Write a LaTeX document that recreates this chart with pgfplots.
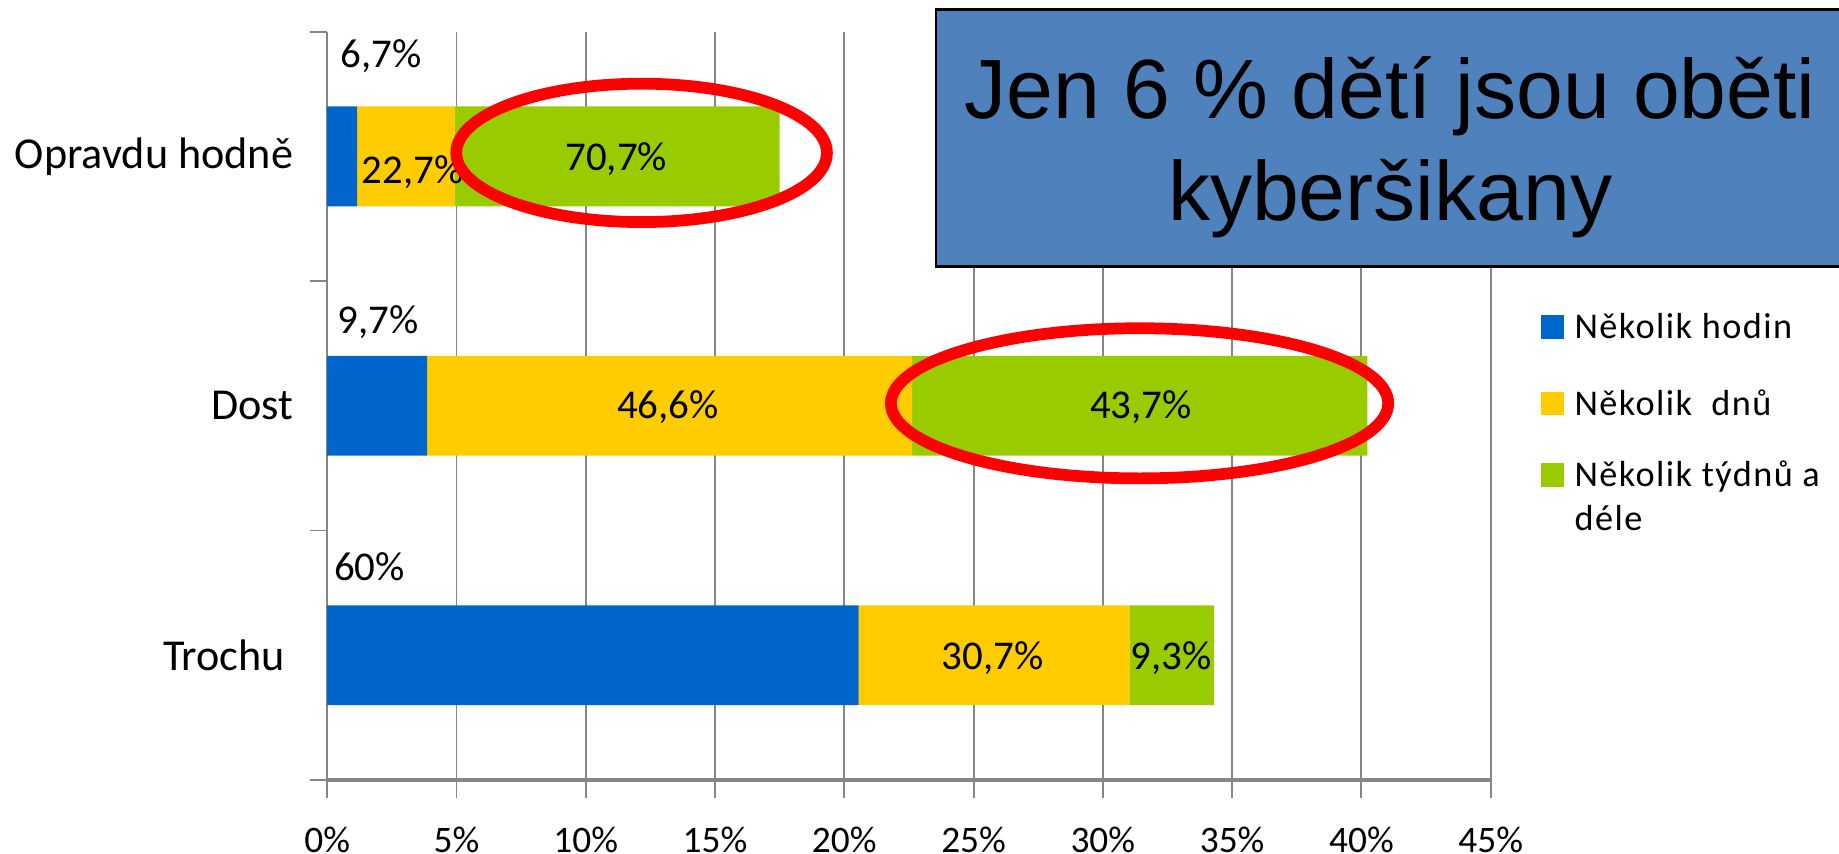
\documentclass[border=0pt]{standalone}
\usepackage{fontspec}
\setmainfont{Carlito}
\newfontfamily\arialfont{Liberation Sans}
\newfontfamily\legfont[LetterSpace=4]{Carlito}
\usepackage{pgfplots}
\pgfplotsset{compat=1.18}
\definecolor{cblue}{HTML}{0066CC}
\definecolor{cyellow}{HTML}{FFCC00}
\definecolor{cgreen}{HTML}{99CC00}
\definecolor{cgrid}{HTML}{868686}
\definecolor{boxblue}{HTML}{4F81BD}
\tikzset{
  vlab/.style={anchor=base, inner sep=0pt, font=\fontsize{17.5}{20}\selectfont},
  leglab/.style={anchor=base west, inner sep=0pt, font=\legfont\fontsize{15.5}{18.5}\selectfont},
  boxlab/.style={anchor=base, inner sep=0pt, font=\arialfont\fontsize{36}{43}\selectfont},
}
\begin{document}
\begin{tikzpicture}
\begin{axis}[
  scale only axis,
  width=496bp, height=319bp,
  xbar stacked,
  bar width=0.4,
  xmin=0, xmax=45,
  ymin=-0.5, ymax=2.5,
  clip=false,
  axis lines*=left,
  axis line style={cgrid, line width=1bp},
  x axis line style={line width=2bp},
  /pgf/number format/assume math mode=true,
  xtick={0,5,...,45},
  xticklabel={\pgfmathprintnumber{\tick}\%},
  xticklabel style={font=\fontsize{16}{18}\selectfont, inner sep=1bp, yshift=-11.5bp},
  ytick={-0.5,0.5,1.5,2.5},
  yticklabels={},
  extra y ticks={0,1,2},
  extra y tick labels={Trochu\kern3.5bp,Dost,Opravdu hodně},
  extra y tick style={major tick length=0pt},
  yticklabel style={font=\fontsize{18.9}{22}\selectfont, xshift=-11bp},
  tick align=outside,
  major tick length=7.5bp,
  tick style={cgrid, line width=0.8bp},
  xmajorgrids,
  grid style={cgrid, line width=0.8bp},
]
\addplot[fill=cblue, draw=none] coordinates {(20.55,0) (3.86,1) (1.16,2)};
\addplot[fill=cyellow, draw=none] coordinates {(10.48,0) (18.76,1) (3.78,2)};
\addplot[fill=cgreen, draw=none] coordinates {(3.27,0) (17.61,1) (12.56,2)};

\coordinate (O) at (rel axis cs:0,0);
% label anchors
\coordinate (L1) at (axis cs:2.09,2.357);
\coordinate (L2) at (axis cs:1.97,1.291);
\coordinate (L3) at (axis cs:1.63,0.301);
\coordinate (L4) at (axis cs:3.31,1.892);
\coordinate (L5) at (axis cs:11.18,1.944);
\coordinate (L6) at (axis cs:13.18,0.948);
\coordinate (L7) at (axis cs:31.47,0.948);
\coordinate (L8) at (axis cs:25.73,-0.058);
\coordinate (L9) at (axis cs:32.65,-0.058);
% ellipses
\coordinate (E1) at (axis cs:12.16,2.014);
\coordinate (E2) at (axis cs:31.42,1.01);
% box
\coordinate (B1) at (axis cs:23.55,1.559);
\coordinate (B2) at (axis cs:58.67,2.589);
\coordinate (T1) at (axis cs:41.11,2.1516);
\coordinate (T2) at (axis cs:41.11,1.7426);
% legend
\coordinate (G1) at (axis cs:46.96,1.268);
\coordinate (G2) at (axis cs:46.96,0.962);
\coordinate (G3) at (axis cs:46.96,0.675);
\coordinate (H1) at (axis cs:48.23,1.268);
\coordinate (H2) at (axis cs:48.23,0.962);
\coordinate (H3) at (axis cs:48.23,0.675);
\coordinate (H4) at (axis cs:48.23,0.501);
\end{axis}

\node[vlab] at (L1) {6,7\%};
\node[vlab] at (L2) {9,7\%};
\node[vlab] at (L3) {60\%};
\node[vlab] at (L4) {22,7\%};
\node[vlab] at (L5) {70,7\%};
\node[vlab] at (L6) {46,6\%};
\node[vlab] at (L7) {43,7\%};
\node[vlab] at (L8) {30,7\%};
\node[vlab] at (L9) {9,3\%};

\draw[red, line width=5bp] (E1) ellipse [x radius=79bp, y radius=29.5bp];
\draw[red, line width=5bp] (E2) ellipse [x radius=106bp, y radius=32bp];

\draw[black, line width=1bp, fill=boxblue] (B1) rectangle (B2);
\node[boxlab] at (T1) {Jen 6 \% dětí jsou oběti};
\node[boxlab] at (T2) {kyberšikany};

\fill[cblue] (G1) rectangle ++(9.5bp,10bp);
\fill[cyellow] (G2) rectangle ++(9.5bp,10bp);
\fill[cgreen] (G3) rectangle ++(9.5bp,10bp);
\node[leglab] at (H1) {Několik hodin};
\node[leglab] at (H2) {Několik~~dnů};
\node[leglab] at (H3) {Několik týdnů a};
\node[leglab] at (H4) {déle};

\pgfresetboundingbox
\path[use as bounding box] ([shift={(-139.5bp,-31.5bp)}]O) rectangle ([shift={(644.5bp,332.5bp)}]O);
\end{tikzpicture}
\end{document}
